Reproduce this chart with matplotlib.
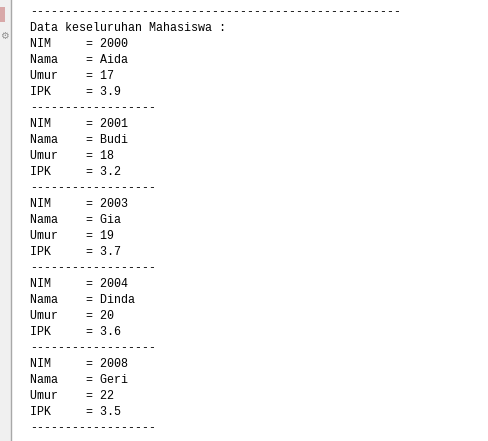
import matplotlib.pyplot as plt
from matplotlib.patches import Rectangle

nim = [2000, 2001, 2003, 2004, 2008]
nama = ['Aida', 'Budi', 'Gia', 'Dinda', 'Geri']
umur = [17, 18, 19, 20, 22]
ipk = [3.9, 3.2, 3.7, 3.6, 3.5]

# build the console lines
lines = ['-' * 53, 'Data keseluruhan Mahasiswa :']
for n, nm, u, p in zip(nim, nama, umur, ipk):
    lines.append('%-8s= %s' % ('NIM', n))
    lines.append('%-8s= %s' % ('Nama', nm))
    lines.append('%-8s= %s' % ('Umur', u))
    lines.append('%-8s= %s' % ('IPK', p))
    lines.append('-' * 18)

W, H = 489, 441
fig = plt.figure(figsize=(W / 100, H / 100), dpi=100)
ax = fig.add_axes([0, 0, 1, 1])
ax.set_xlim(0, W)
ax.set_ylim(H, 0)
ax.axis('off')

# left gutter of the console window
ax.add_patch(Rectangle((0, 0), 10.5, H, color='#f0f0f0', lw=0))
ax.axvline(11, color='#a8a8a8', lw=1)
ax.add_patch(Rectangle((0, 7), 5, 15, color='#d8a8a8', lw=0))
ax.text(0, 36, '\u2699', fontsize=7, color='#909090', va='center', ha='left')

x0 = 30
y0 = 12
pitch = 16
for i, s in enumerate(lines):
    ax.text(x0, y0 + i * pitch, s, family='Liberation Mono', fontsize=8.4,
            color='#000000', va='center', ha='left')

fig.savefig('out.png', dpi=100)
